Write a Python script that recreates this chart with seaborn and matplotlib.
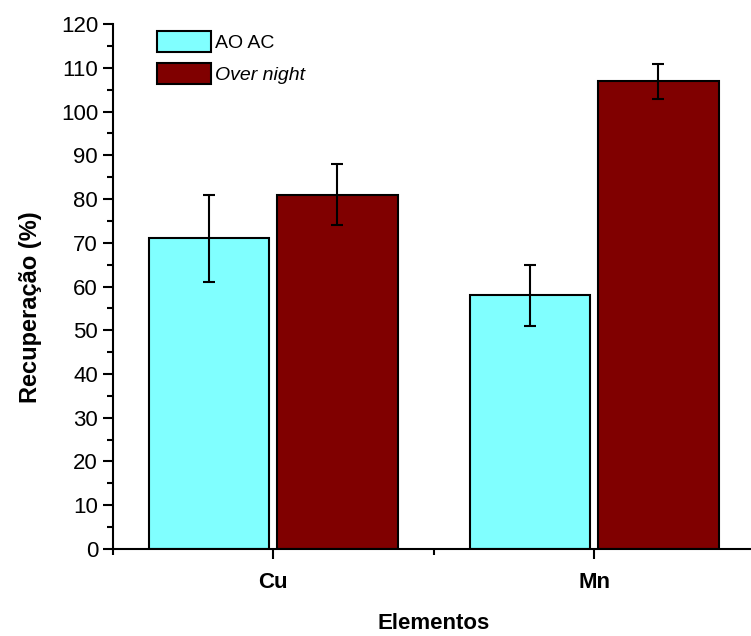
import pandas as pd
import matplotlib.pyplot as plt
import seaborn as sns
from matplotlib.ticker import MultipleLocator, FixedLocator

# Dados
elementos = ['Cu', 'Mn']
metodos = ['AO AC', 'Over night']
recuperacao_aoac = [71, 58]
erro_aoac = [10, 7]
recuperacao_overnight = [81, 107]
erro_overnight = [7, 4]

sns.set_style("ticks")
plt.rcParams['font.family'] = ['Liberation Sans', 'DejaVu Sans']
plt.rcParams['text.color'] = 'black'
plt.rcParams['axes.labelcolor'] = 'black'
plt.rcParams['xtick.color'] = 'black'
plt.rcParams['ytick.color'] = 'black'
plt.rcParams['axes.edgecolor'] = 'black'

df = pd.DataFrame({
    'Elemento': elementos * 2,
    'Metodo': [metodos[0]] * 2 + [metodos[1]] * 2,
    'Recuperacao': recuperacao_aoac + recuperacao_overnight,
})
erros = {metodos[0]: erro_aoac, metodos[1]: erro_overnight}
cores = {'AO AC': '#80FFFF', 'Over night': '#800000'}

fig = plt.figure(figsize=(7.51, 6.36), dpi=100)
ax = fig.add_axes([0.150, 0.137, 0.855, 0.825])

sns.barplot(data=df, x='Elemento', y='Recuperacao', hue='Metodo',
            hue_order=metodos, palette=cores, saturation=1, width=0.8, gap=0.06,
            edgecolor='black', linewidth=1.5, errorbar=None, ax=ax)

# Barras de erro
for cont, met in zip(ax.containers, metodos):
    xs = [b.get_x() + b.get_width() / 2 for b in cont]
    ys = [b.get_height() for b in cont]
    ax.errorbar(xs, ys, yerr=erros[met], fmt='none', ecolor='black',
                elinewidth=1.5, capsize=4, capthick=1.5)

ax.set_ylim(0, 120)
ax.set_xlim(-0.5, 1.5)
ax.yaxis.set_major_locator(MultipleLocator(10))
ax.yaxis.set_minor_locator(MultipleLocator(5))
ax.xaxis.set_minor_locator(FixedLocator([-0.5, 0.5, 1.5]))
ax.tick_params(axis='both', which='major', length=7, width=1.5, labelsize=16)
ax.tick_params(axis='x', which='major', pad=10)
ax.tick_params(axis='both', which='minor', length=4, width=1.5)
for lab in ax.get_xticklabels():
    lab.set_fontweight('bold')

for s in ['top', 'right']:
    ax.spines[s].set_visible(False)
for s in ['left', 'bottom']:
    ax.spines[s].set_linewidth(1.5)

ax.set_xlabel('Elementos', fontsize=16, fontweight='bold', labelpad=14)
ax.set_ylabel('Recuperação (%)', fontsize=17, fontweight='bold')
ax.yaxis.set_label_coords(-0.11, 0.46)

leg = ax.legend(loc='upper left', bbox_to_anchor=(0.063, 0.995), frameon=False,
                fontsize=14, handlelength=2.8, handleheight=1.3,
                handletextpad=0.2, labelspacing=0.55, borderpad=0.2,
                borderaxespad=0)
leg.get_texts()[1].set_style('italic')

fig.savefig('out.png', dpi=100)
